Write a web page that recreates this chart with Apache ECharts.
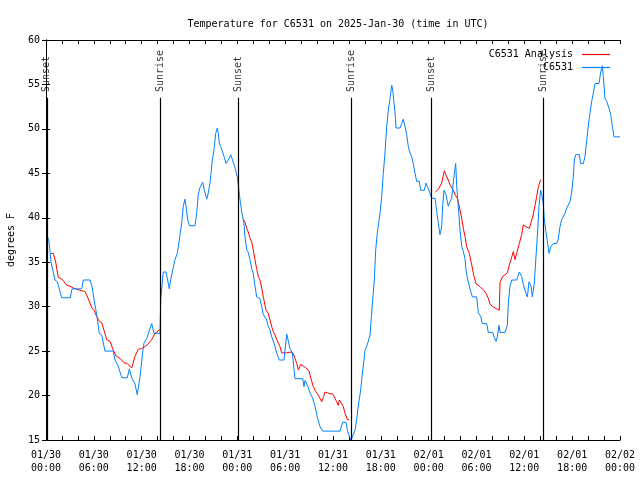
<!DOCTYPE html>
<html>
<head>
<meta charset="utf-8">
<script src="https://cdn.jsdelivr.net/npm/echarts@6/dist/echarts.min.js"></script>
<style>html,body{margin:0;padding:0;background:#fff}#c{width:640px;height:480px}</style>
</head>
<body>
<div id="c"></div>
<script>
var titleText = 'Temperature for C6531 on 2025-Jan-30 (time in UTC)';
var tickLabels = ['01/30\n00:00','01/30\n06:00','01/30\n12:00','01/30\n18:00','01/31\n00:00','01/31\n06:00','01/31\n12:00','01/31\n18:00','02/01\n00:00','02/01\n06:00','02/01\n12:00','02/01\n18:00','02/02\n00:00'];
var sunHours = [0.1, 14.35, 24.1, 38.3, 48.3, 62.35];
var sunNames = ['Sunset','Sunrise','Sunset','Sunrise','Sunset','Sunrise'];

// Observations: [hours since 01/30 00:00 UTC, deg F]
var obs = [[0.16,38.0],[0.38,37.3],[0.63,35],[0.88,34],[1.13,33],[1.42,32.8],[1.97,31],[3.05,31],[3.26,32],[4.48,32],[4.68,33],[5.52,33],[5.77,32.3],[6.06,30.6],[6.36,29.1],[6.69,27],[6.99,26.8],[7.40,25],[8.44,25],[8.66,24],[9.07,23.3],[9.50,22],[10.20,22],[10.45,23],[10.75,22],[11.16,21.3],[11.45,20.1],[11.79,22.1],[12.13,24.9],[12.29,25.9],[12.63,26.4],[12.92,27.2],[13.26,28.1],[13.55,27],[14.30,27],[14.39,30.8],[14.59,32.8],[14.71,33.9],[15.05,33.9],[15.22,33.2],[15.47,32],[15.64,33],[15.84,33.9],[15.97,33.9],[16.18,35.3],[16.47,36],[16.72,37.5],[17.02,39.4],[17.22,41.3],[17.44,42.1],[17.56,41.3],[17.77,39.8],[17.98,39.1],[18.69,39.1],[18.90,40.5],[19.10,42.6],[19.32,43.4],[19.66,44],[19.86,43.1],[20.16,42.1],[20.36,42.8],[20.57,43.9],[20.70,45],[20.86,46.5],[21.07,47.6],[21.29,49.5],[21.49,50.1],[21.62,49.5],[21.74,48.4],[21.92,48],[22.17,48],[22.33,46.9],[22.58,46.1],[22.87,46.5],[23.17,47.1],[23.42,47],[23.62,45.9],[23.83,45.2],[24.00,44.6],[24.21,43],[24.40,41.6],[24.58,40.5],[24.83,39.4],[24.95,37.9],[25.18,36.4],[25.37,36.1],[25.59,35.3],[25.80,34.3],[26.00,33.7],[26.21,32.4],[26.42,31.1],[26.84,30.9],[27.06,30],[27.26,29.1],[27.68,28.5],[27.88,27.8],[28.10,27.4],[28.31,26.6],[28.60,25.9],[28.94,24.8],[29.26,24],[29.85,24],[30.20,26.9],[30.40,26.9],[30.61,25.3],[30.90,24.8],[31.23,21.9],[32.20,21.9],[32.36,21],[32.49,21.7],[32.70,21.8],[32.90,20.9],[33.12,20.3],[33.45,19.7],[33.74,18.8],[34.03,17.6],[34.37,16.5],[34.71,16],[36.88,16],[37.22,17],[37.63,17],[37.80,16.1],[38.05,15.4],[38.26,15],[38.35,15.2],[38.76,16.1],[38.97,17.3],[39.17,18.8],[39.47,20.6],[39.68,22.5],[39.89,24],[40.01,25.1],[40.30,25.7],[40.64,26.8],[40.85,29.3],[41.05,31.5],[41.18,33],[41.36,36.4],[41.56,38.3],[41.90,40.5],[42.11,42.4],[42.31,45],[42.52,47.3],[42.74,50.3],[42.94,52.1],[43.15,53.4],[43.37,54.9],[43.49,54.4],[43.65,52.9],[43.78,51.9],[43.90,50.1],[44.41,50.1],[44.62,50.6],[44.82,51.1],[45.03,50.3],[45.25,49.3],[45.45,48],[45.66,47.3],[45.87,46.9],[46.07,46.1],[46.29,45],[46.50,44.1],[46.83,44.1],[47.00,43.1],[47.45,43.1],[47.67,43.9],[47.83,43.9],[48.08,43],[48.38,42.2],[48.80,42.2],[49.01,40.7],[49.21,39.4],[49.42,38.1],[49.63,39],[49.76,41.4],[49.92,43.1],[50.17,42.6],[50.46,41.3],[50.68,41.8],[50.89,42.2],[51.01,43.3],[51.22,45],[51.39,46.1],[51.52,43.5],[51.72,41.3],[51.93,38.6],[52.15,36.8],[52.35,36.2],[52.56,35.4],[52.69,34.1],[52.90,33],[53.06,32.8],[53.28,31.7],[53.48,31.1],[54.02,31.1],[54.23,29.3],[54.53,28.9],[54.73,28.1],[55.28,28.1],[55.48,27.1],[56.03,27.1],[56.20,26.6],[56.45,26.1],[56.61,26.6],[56.82,27.9],[56.95,27.1],[57.58,27.1],[57.87,27.9],[57.99,30.4],[58.20,32.3],[58.42,33],[59.04,33],[59.37,33.9],[59.67,33.4],[59.87,32.5],[60.21,31.5],[60.38,31.1],[60.59,32.8],[60.84,32.3],[61.00,31.1],[61.25,32.6],[61.46,35.6],[61.68,38.6],[61.84,41.3],[62.05,43.1],[62.18,42.6],[62.38,41.6],[62.50,39.9],[62.68,38.6],[62.93,37.1],[63.09,36],[63.34,36.8],[63.63,37.1],[64.06,37.1],[64.26,37.6],[64.47,39],[64.69,39.8],[65.10,40.5],[65.31,41.1],[65.73,41.8],[65.94,42.9],[66.14,44.6],[66.27,46.5],[66.44,47.1],[66.90,47.1],[67.07,46.1],[67.40,46.1],[67.61,46.9],[67.83,48.8],[68.03,50.4],[68.24,51.8],[68.45,53.1],[68.65,54],[68.87,55.1],[69.37,55.1],[69.58,56.4],[69.78,57.1],[69.91,55.9],[70.12,53.4],[70.34,53.1],[70.62,52.3],[70.84,51.6],[71.04,50.3],[71.25,49.1],[72.00,49.1]];

// Analysis (night-time segments)
var ana1 = [[0.59,36.0],[0.92,36.0],[1.22,35],[1.54,33.3],[1.97,33.1],[2.26,32.8],[2.60,32.4],[3.01,32.3],[3.42,32.1],[4.05,31.9],[4.48,31.8],[4.89,31.7],[5.10,31.3],[5.52,30.4],[5.73,29.9],[6.02,29.6],[6.36,28.9],[6.65,28.4],[6.99,28.2],[7.19,27.6],[7.61,26.3],[8.03,26.1],[8.44,25.1],[8.78,24.45],[9.28,24.2],[9.78,23.7],[10.20,23.6],[10.75,23.1],[11.16,24.4],[11.58,25.2],[12.00,25.3],[12.42,25.5],[12.83,25.8],[13.26,26.3],[13.67,27.0],[14.30,27.45]];
var ana2 = [[24.75,39.8],[24.96,39.5],[25.18,38.8],[25.37,38.4],[25.59,37.7],[25.80,37.3],[26.00,36.4],[26.21,35.3],[26.42,34.3],[26.63,33.4],[26.84,33.0],[27.06,32.1],[27.26,31.1],[27.60,29.6],[27.88,29.25],[28.10,28.5],[28.31,27.75],[28.51,27.2],[28.72,26.8],[28.94,26.3],[29.14,25.9],[29.35,25.5],[29.56,24.8],[29.77,24.75],[30.20,24.8],[30.61,24.9],[31.02,24.75],[31.23,24.2],[31.45,23.6],[31.65,22.9],[31.77,22.7],[31.95,23.5],[32.20,23.3],[32.49,23.2],[32.74,23.0],[32.99,22.8],[33.12,22.3],[33.33,21.6],[33.53,21.0],[33.74,20.6],[34.03,20.2],[34.37,19.7],[34.58,19.3],[34.79,19.8],[35.00,20.4],[35.29,20.3],[35.63,20.2],[35.84,20.05],[35.96,20.2],[36.25,19.7],[36.46,19.3],[36.67,18.9],[36.79,19.5],[36.97,19.5],[37.29,18.75],[37.51,18.0],[37.80,17.3],[38.01,17.3]];
var ana3 = [[48.83,42.9],[49.21,43.2],[49.63,43.9],[49.83,44.1],[49.96,45.3],[50.17,44.8],[50.46,44.25],[50.68,43.7],[50.97,43.3],[51.31,42.6],[51.60,42.2],[51.85,41.25],[52.15,39.9],[52.35,38.8],[52.56,37.9],[52.77,36.75],[53.10,36.0],[53.40,34.7],[53.69,33.4],[53.94,32.6],[54.44,32.25],[54.94,31.8],[55.19,31.5],[55.48,30.95],[55.69,30.3],[56.03,30.0],[56.45,29.8],[56.86,29.6],[56.95,32.7],[57.29,33.4],[57.58,33.6],[57.87,33.8],[58.12,34.7],[58.42,35.6],[58.62,36.2],[58.83,35.3],[59.04,36.0],[59.37,37.1],[59.67,38.1],[59.87,39.2],[60.21,39.0],[60.62,38.8],[60.84,38.6],[61.05,40.1],[61.34,41.4],[61.55,42.4],[61.76,43.5],[62.05,44.3]];

var FONT = 'DejaVu Sans Mono';
var anaData = ana1.concat([[null, null]], ana2, [[null, null]], ana3);

var chart = echarts.init(document.getElementById('c'), null, {renderer: 'canvas'});
chart.setOption({
  animation: false,
  backgroundColor: '#ffffff',
  textStyle: {fontFamily: FONT, fontSize: 10, color: '#000'},
  title: {
    text: titleText, left: 333, top: 14, textAlign: 'center',
    textStyle: {fontFamily: FONT, fontSize: 10, fontWeight: 'normal', color: '#000'}
  },
  legend: [
    {data: [{name: 'C6531 Analysis', icon: 'rect'}], right: 30, top: 49.5, padding: 0, align: 'right', itemWidth: 28, itemHeight: 1.2,
     textStyle: {fontFamily: FONT, fontSize: 10, color: '#000', padding: [0, 4, 0, 0]}},
    {data: [{name: 'C6531', icon: 'rect'}], right: 30, top: 62.5, padding: 0, align: 'right', itemWidth: 28, itemHeight: 1.2,
     textStyle: {fontFamily: FONT, fontSize: 10, color: '#000', padding: [0, 4, 0, 0]}}
  ],
  grid: {left: 46, right: 20, top: 40, bottom: 40, containLabel: false, outerBoundsMode: 'none'},
  xAxis: [
    {type: 'value', min: 0, max: 72, interval: 6, position: 'bottom',
     axisLine: {lineStyle: {color: '#000', width: 1}},
     axisTick: {inside: true, length: 4, lineStyle: {color: '#000'}},
     minorTick: {show: true, splitNumber: 3, length: 4, lineStyle: {color: '#000'}},
     splitLine: {show: false},
     axisLabel: {margin: 9, lineHeight: 13, fontFamily: FONT, fontSize: 10, color: '#000',
       formatter: function (v) { return tickLabels[Math.round(v / 6)]; }}},
    {type: 'value', min: 0, max: 72, interval: 6, position: 'top',
     axisLine: {lineStyle: {color: '#000', width: 1}},
     axisTick: {inside: true, length: 4, lineStyle: {color: '#000'}},
     minorTick: {show: true, splitNumber: 3, length: 4, lineStyle: {color: '#000'}},
     splitLine: {show: false}, axisLabel: {show: false}}
  ],
  yAxis: [
    {type: 'value', min: 15, max: 60, interval: 5, position: 'left',
     name: 'degrees F', nameLocation: 'middle', nameGap: 30, nameRotate: 90,
     nameTextStyle: {fontFamily: FONT, fontSize: 10, color: '#000'},
     axisLine: {show: true, lineStyle: {color: '#000', width: 1}},
     axisTick: {show: true, inside: true, length: 4, lineStyle: {color: '#000'}},
     splitLine: {show: false},
     axisLabel: {margin: 6, fontFamily: FONT, fontSize: 10, color: '#000'}},
    {type: 'value', min: 15, max: 60, interval: 5, position: 'right',
     axisLine: {show: true, lineStyle: {color: '#000', width: 1}},
     axisTick: {show: true, inside: true, length: 4, lineStyle: {color: '#000'}},
     splitLine: {show: false}, axisLabel: {show: false}}
  ],
  series: [
    {
      name: 'sun', type: 'scatter', symbolSize: 1, itemStyle: {color: 'rgba(0,0,0,0)'}, silent: true,
      data: sunHours.map(function (h, i) { return {value: [h, 54.15], name: sunNames[i]}; }),
      label: {show: true, position: 'inside', rotate: 90, align: 'left', verticalAlign: 'middle',
        formatter: function (p) { return p.name; },
        fontFamily: FONT, fontSize: 10, color: '#000'},
      labelLayout: {hideOverlap: false},
      markLine: {
        silent: true, symbol: 'none', animation: false,
        label: {show: false},
        lineStyle: {color: '#000', width: 1.2, type: 'solid'},
        data: sunHours.map(function (h) { return [{coord: [h, 15]}, {coord: [h, 53.5]}]; })
      }
    },
    {
      name: 'C6531 Analysis', type: 'line', data: anaData, symbol: 'none', connectNulls: false,
      lineStyle: {color: '#ff0000', width: 1}, itemStyle: {color: '#ff0000'}, z: 3
    },
    {
      name: 'C6531', type: 'line', data: obs, symbol: 'none',
      lineStyle: {color: '#0080ff', width: 1}, itemStyle: {color: '#0080ff'}, z: 4
    }
  ]
});
</script>
</body>
</html>
